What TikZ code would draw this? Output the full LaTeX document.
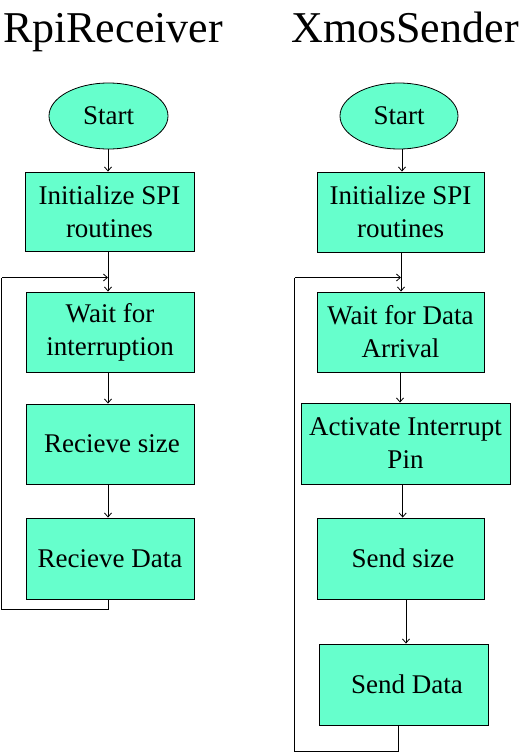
\documentclass[tikz,border=0pt]{standalone}
\usepackage{fontspec}
\setmainfont{Liberation Serif}
\usetikzlibrary{shapes.geometric,arrows.meta}
\definecolor{boxfill}{RGB}{102,255,204}
\begin{document}
\begin{tikzpicture}[x=1pt,y=-1pt,
  stepbox/.style={draw=black,line width=0.9pt,fill=boxfill,inner sep=0pt,
    minimum width=168pt,minimum height=80pt,align=center,
    font=\fontsize{27}{33}\selectfont},
  startnode/.style={draw=black,line width=0.8pt,fill=boxfill,ellipse,inner sep=0pt,
    minimum width=119pt,minimum height=66pt,font=\fontsize{27}{33}\selectfont},
  title/.style={inner sep=0pt,font=\fontsize{44}{50}\selectfont},
  arr/.style={line width=0.8pt,-{Straight Barb[length=4pt,width=7pt]}},
  ln/.style={line width=0.8pt}]
\useasboundingbox (0,0) rectangle (524,753);
% titles
\node[title,anchor=base] (tL) at (113,42) {RpiReceiver};
\node[title,anchor=base] (tR) at (405,42) {XmosSender};
% left column
\node[startnode] (sL) at (108.5,116) {Start};
\node[stepbox,minimum width=169pt,minimum height=79pt] (iL) at (109.5,211.5) {Initialize SPI\\routines};
\node[stepbox] (wL) at (110,332) {Wait for\\interruption};
\node[stepbox] (rsL) at (110,444) {\hspace*{4pt}Recieve size};
\node[stepbox,minimum height=81pt] (rdL) at (110,558.5) {Recieve Data};
\coordinate (jL) at (108,277.5);
\coordinate (cL1) at (1.5,609);
\coordinate (cL2) at (1.5,277.5);
\coordinate (bL) at (108,609);
\draw[arr] (sL.south -| jL) -- (iL.north -| jL);
\draw[arr] (iL.south -| jL) -- (wL.north -| jL);
\draw[arr] (wL.south -| jL) -- (rsL.north -| jL);
\draw[arr] (rsL.south -| jL) -- (rdL.north -| jL);
\draw[ln] (rdL.south -| bL) -- (bL) -- (cL1) -- (cL2);
\draw[arr] (cL2) -- (jL);
% right column
\node[startnode,minimum width=118pt] (sR) at (399,116) {Start};
\node[stepbox,minimum width=167pt] (iR) at (400.5,212) {Initialize SPI\\routines};
\node[stepbox,minimum width=167pt] (wR) at (400.5,332) {Wait for Data\\Arrival};
\node[stepbox,minimum width=209pt,minimum height=81pt] (aR) at (405.5,443.5) {Activate Interrupt\\Pin};
\node[stepbox,minimum width=167pt,minimum height=81pt] (ssR) at (400.5,558.5) {\hspace*{5pt}Send size};
\node[stepbox,minimum width=169pt,minimum height=81pt] (sdR) at (403.5,684.5) {\hspace*{7pt}Send Data};
\coordinate (jR) at (401,277.5);
\coordinate (cR1) at (294.5,751);
\coordinate (cR2) at (294.5,277.5);
\coordinate (bR) at (398,751);
\coordinate (x1) at (402,0);
\coordinate (x3) at (400,0);
\coordinate (x4) at (402.7,0);
\coordinate (x5) at (406,0);
\draw[arr] (sR.south -| x1) -- (iR.north -| x1);
\draw[arr] (iR.south -| jR) -- (wR.north -| jR);
\draw[arr] (wR.south -| x3) -- (aR.north -| x3);
\draw[arr] (aR.south -| x4) -- (ssR.north -| x4);
\draw[arr] (ssR.south -| x5) -- (sdR.north -| x5);
\draw[ln] (sdR.south -| bR) -- (bR) -- (cR1) -- (cR2);
\draw[arr] (cR2) -- (jR);
\end{tikzpicture}
\end{document}
